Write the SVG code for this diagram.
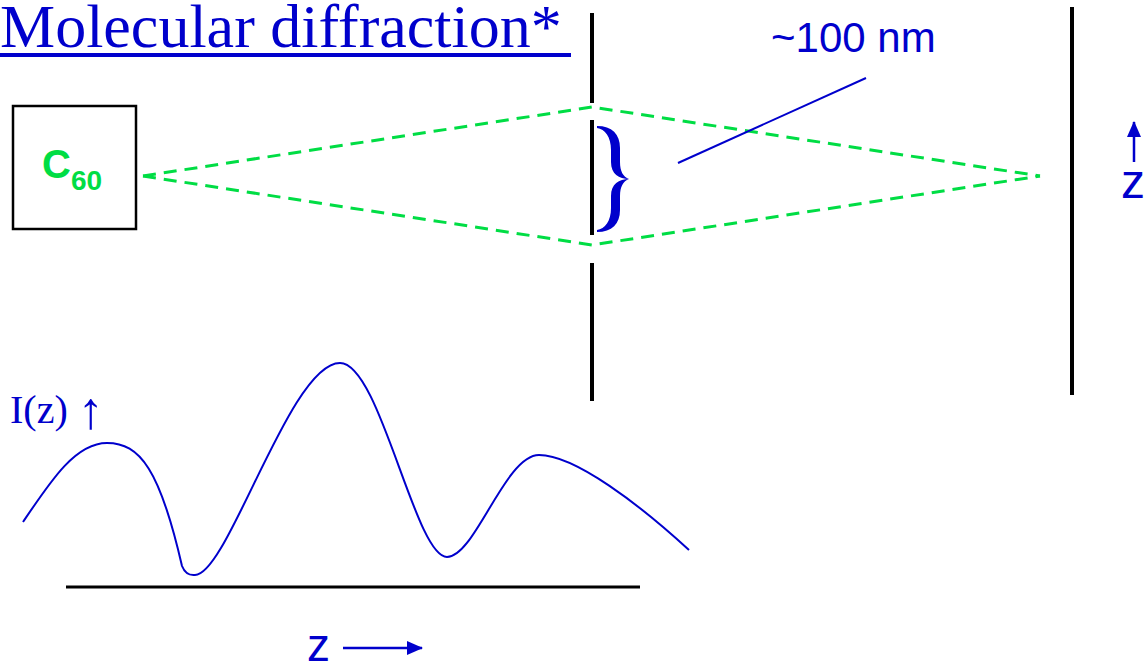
<svg xmlns="http://www.w3.org/2000/svg" width="1145" height="664" viewBox="0 0 1145 664">
<style>
.blue{fill:#0000CC}
.serif{font-family:"Liberation Serif","Times New Roman",serif}
.sans{font-family:"Liberation Sans",Arial,sans-serif}
.wall{stroke:#000;stroke-width:4;fill:none}
.ray{stroke:#00DD44;stroke-width:3;stroke-dasharray:13 8;fill:none}
.bl{stroke:#0000CC;fill:none}
</style>
<defs>
<marker id="ah" markerWidth="16" markerHeight="14" refX="15" refY="7" orient="auto" markerUnits="userSpaceOnUse" viewBox="0 0 16 14">
<path d="M0,0 L16,7 L0,14 Z" fill="#0000CC"/>
</marker>
</defs>
<rect width="1145" height="664" fill="#fff"/>
<g id="title">
<text x="0" y="47" class="serif blue" font-size="62">Molecular diffraction*</text>
<line x1="0" y1="55" x2="571" y2="55" stroke="#0000CC" stroke-width="4"/>
</g>
<g id="source">
<rect x="13" y="106" width="123" height="123" fill="none" stroke="#000" stroke-width="2.5"/>
<text x="42" y="178" class="sans" font-weight="bold" font-size="40" fill="#00DD44">C<tspan font-size="28" dy="12">60</tspan></text>
</g>
<g id="slit">
<line x1="592" y1="13" x2="592" y2="103" class="wall"/>
<line x1="592" y1="120" x2="592" y2="235" class="wall"/>
<line x1="592" y1="263" x2="592" y2="401" class="wall"/>
<path class="blue" d="M597,126 C612,126 620,134 620,148 L620,162 C620,171 623,177 629,179 C619,179 611,174 611,162 L611,150 C611,137 605,129 597,128 Z M597,232 C612,232 620,224 620,210 L620,196 C620,187 623,181 629,179 C619,179 611,184 611,196 L611,208 C611,221 605,229 597,230 Z"/>
</g>
<g id="screen">
<line x1="1072" y1="7" x2="1072" y2="395" class="wall"/>
</g>
<g id="connectors">
<path class="ray" d="M143,176 L592,107 L1040,176"/>
<path class="ray" d="M143,176 L592,245 L1040,176"/>
<line x1="678" y1="163" x2="866" y2="78" class="bl" stroke-width="2"/>
<line x1="1134" y1="162" x2="1134" y2="122" class="bl" stroke-width="2.5" marker-end="url(#ah)"/>
<line x1="343" y1="648" x2="422" y2="648" class="bl" stroke-width="2.5" marker-end="url(#ah)"/>
</g>
<g id="label-width">
<text x="771" y="52" class="sans blue" font-size="42">~100 nm</text>
</g>
<g id="label-z-right">
<text x="1121" y="198" class="sans blue" font-size="48">z</text>
</g>
<g id="plot">
<text x="10" y="423" class="serif blue" font-size="40">I(z) <tspan font-size="52" dy="5">↑</tspan></text>
<path class="bl" stroke-width="2" d="M23,522 C50,482 75,443 107,443 C140,443 160,470 182,566 Q186,576 195,575 C228,575 290,363 340,363 C380,363 415,557 447,557 C475,557 505,455 539,455 C575,455 640,505 689,550"/>
<line x1="66" y1="587" x2="640" y2="587" stroke="#000" stroke-width="3"/>
<text x="307" y="661" class="sans blue" font-size="46">z</text>
</g>
</svg>
